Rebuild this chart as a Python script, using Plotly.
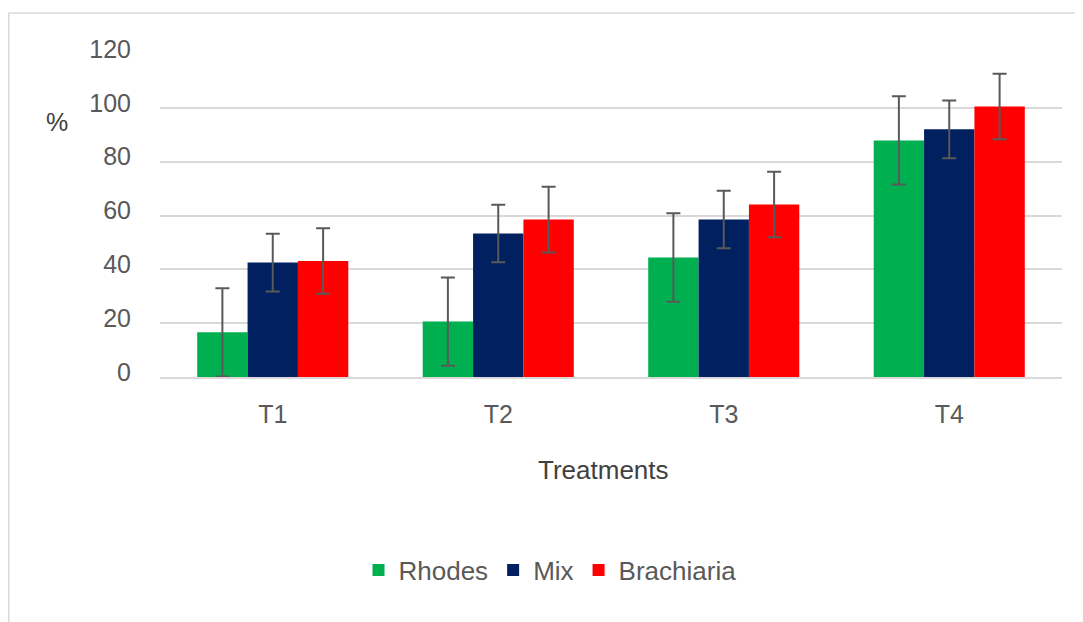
import plotly.graph_objects as go

categories = ["T1", "T2", "T3", "T4"]
rhodes = [16.6, 20.6, 44.4, 87.9]
mix = [42.5, 53.3, 58.5, 92.0]
brachiaria = [43.1, 58.5, 64.1, 100.5]
rhodes_err = [16.4, 16.4, 16.4, 16.4]
mix_err = [10.7, 10.7, 10.7, 10.7]
brachiaria_err = [12.2, 12.2, 12.2, 12.2]
y_ticks = [0, 20, 40, 60, 80, 100, 120]

FONT = "Arial, Liberation Sans, sans-serif"
ERR_COLOR = "#595959"

fig = go.Figure()
for name, vals, errs, color in [
    ("Rhodes", rhodes, rhodes_err, "#00B050"),
    ("Mix", mix, mix_err, "#002060"),
    ("Brachiaria", brachiaria, brachiaria_err, "#FF0000"),
]:
    fig.add_trace(go.Bar(
        x=categories, y=vals, name=name,
        marker=dict(color=color, line=dict(width=0)),
        error_y=dict(type="data", array=errs, visible=True,
                     color=ERR_COLOR, thickness=2, width=7),
    ))

# page body has an 8px margin, so the figure is drawn offset by 8px
OFF = 8
W, H = 1083 - OFF, 622 - OFF
ML = 160 - OFF
MT = 54 - OFF
MR = W - (1062 - OFF)
MB = H - (377 - OFF)
pw = W - ML - MR
ph = H - MT - MB

def px_x(x):
    return (x - OFF - ML) / pw

def px_y(y):
    return (H - MB - (y - OFF)) / ph

fig.update_layout(
    width=W, height=H,
    margin=dict(l=ML, r=MR, t=MT, b=MB, pad=0),
    paper_bgcolor="white", plot_bgcolor="white",
    barmode="group", bargap=0.33, bargroupgap=0,
    font=dict(family=FONT, size=25, color="#595959"),
    showlegend=True,
    legend=dict(orientation="h", x=px_x(550), xanchor="center",
                y=px_y(570), yanchor="middle",
                font=dict(size=26, color="#595959"),
                bgcolor="rgba(0,0,0,0)", itemclick=False),
    xaxis=dict(showgrid=False, showline=True, linecolor="#D9D9D9", linewidth=1.5,
               ticks="", tickfont=dict(size=25, color="#595959"),
               ticklabelstandoff=14, zeroline=False, fixedrange=True),
    yaxis=dict(range=[0, 120], tickvals=y_ticks, showgrid=True,
               gridcolor="#D9D9D9", gridwidth=1.5, zeroline=False,
               showline=False, ticks="", ticklabelstandoff=28, ticklabelshift=-5,
               tickfont=dict(size=25, color="#595959"), fixedrange=True),
    annotations=[
        dict(text="Treatments", xref="paper", yref="paper", x=px_x(603), y=px_y(470),
             xanchor="center", yanchor="middle", showarrow=False,
             font=dict(size=26, color="#404040", family=FONT)),
        dict(text="%", xref="paper", yref="paper", x=px_x(57), y=px_y(122),
             xanchor="center", yanchor="middle", showarrow=False,
             font=dict(size=25, color="#404040", family=FONT)),
    ],
    shapes=[
        dict(type="line", xref="paper", yref="paper", x0=px_x(8.75), x1=px_x(1090),
             y0=px_y(13), y1=px_y(13), line=dict(color="#D9D9D9", width=1.5)),
        dict(type="line", xref="paper", yref="paper", x0=px_x(8.75), x1=px_x(8.75),
             y0=px_y(13), y1=px_y(630), line=dict(color="#D9D9D9", width=1.5)),
    ],
)

fig.write_html("out.html")
